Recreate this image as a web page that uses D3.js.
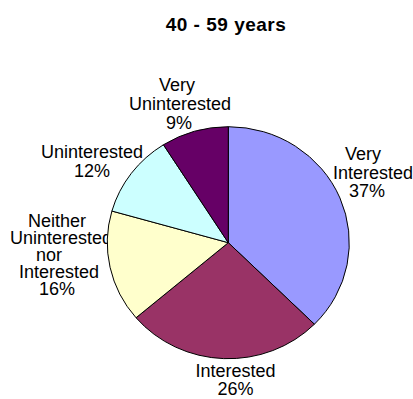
<!DOCTYPE html>
<html>
<head>
<meta charset="utf-8">
<script src="https://cdn.jsdelivr.net/npm/d3@7"></script>
<style>
  html, body { margin: 0; padding: 0; background: #fff; }
  svg { display: block; }
  text { font-family: "Liberation Sans", Arial, sans-serif; fill: #000; }
</style>
</head>
<body>
<svg id="chart" width="413" height="399"></svg>
<script>
// ---- data ----
const title = "40 - 59 years";
const categories = ["Very Interested", "Interested", "Neither Uninterested nor Interested", "Uninterested", "Very Uninterested"];
const labelLines = [["Very", "Interested"], ["Interested"], ["Neither", "Uninterested", "nor", "Interested"], ["Uninterested"], ["Very", "Uninterested"]];
const values = [37.4, 26.4, 15.6, 11.6, 9.0];
const colors = ["#9999FF", "#993366", "#FFFFCC", "#CCFFFF", "#660066"];

// ---- layout ----
const W = 413, H = 399;
const cx = 228.3, cy = 242.7, rx = 121, ry = 116;
// label anchor (centre x, first baseline, line spacing), plus per-line x nudges
const labelLayout = [
  { x: 367, y: 160, dy: 18.6, nudge: [-4, 6, 0] },
  { x: 235.5, y: 377.3, dy: 18, nudge: [0, 0] },
  { x: 57, y: 226.6, dy: 17, nudge: [0, 4, -8, 2, 0] },
  { x: 92, y: 158.3, dy: 19, nudge: [0, 0] },
  { x: 178, y: 90.7, dy: 19.3, nudge: [-1, 2, 1] }
];

const svg = d3.select("#chart");
const total = d3.sum(values);

svg.append("text")
  .attr("x", 226).attr("y", 31)
  .attr("text-anchor", "middle")
  .style("font-weight", "bold")
  .style("font-size", "19px")
  .style("letter-spacing", "0.5px")
  .text(title);

// labels drawn first (pie overlaps them, as in reference)
const lblG = svg.append("g");
categories.forEach((c, i) => {
  const L = labelLayout[i];
  const lines = labelLines[i].concat([Math.round(values[i] / total * 100) + "%"]);
  const t = lblG.append("text")
    .attr("text-anchor", "middle")
    .style("font-size", "18px");
  lines.forEach((ln, j) => {
    t.append("tspan")
      .attr("x", L.x + (L.nudge[j] || 0))
      .attr("y", L.y + j * L.dy)
      .text(ln);
  });
});

const pie = d3.pie().sort(null).value(d => d).startAngle(0).endAngle(2 * Math.PI);
const arc = d3.arc().innerRadius(0).outerRadius(rx);

const g = svg.append("g")
  .attr("transform", `translate(${cx},${cy}) scale(1,${ry / rx})`);

g.selectAll("path")
  .data(pie(values))
  .join("path")
  .attr("d", arc)
  .attr("fill", (d, i) => colors[i])
  .attr("stroke", "#000")
  .attr("stroke-width", 1)
  .attr("vector-effect", "non-scaling-stroke")
  .attr("stroke-linejoin", "round");
</script>
</body>
</html>
